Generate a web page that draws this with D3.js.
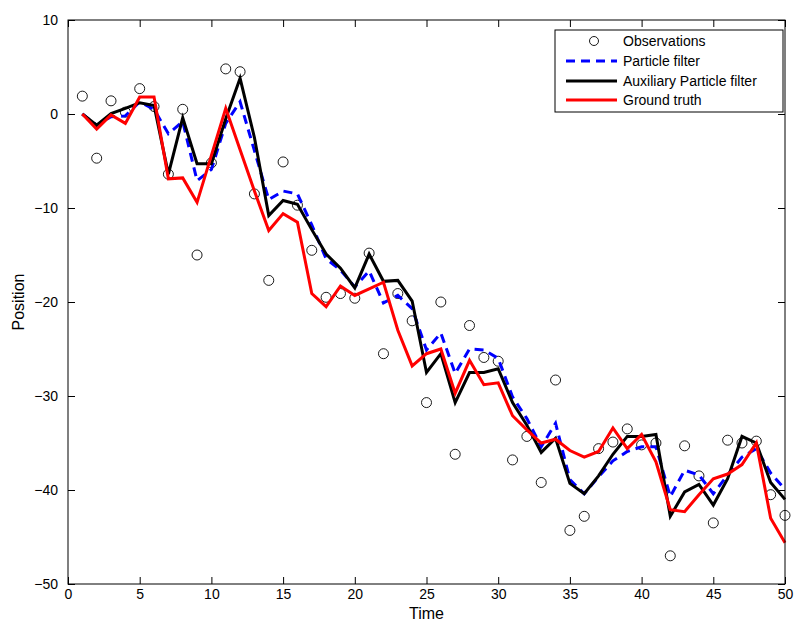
<!DOCTYPE html>
<html>
<head>
<meta charset="utf-8">
<script src="https://cdn.jsdelivr.net/npm/d3@7"></script>
<style>
  body { margin: 0; background: #fff; }
  text { font-family: "Liberation Sans", Arial, sans-serif; fill: #000; }
</style>
</head>
<body>
<script>
const width = 794;
const height = 625;
const margin = { top: 20, right: 9, bottom: 41, left: 68 };

// time steps
const timeSteps = [1, 2, 3, 4, 5, 6, 7, 8, 9, 10, 11, 12, 13, 14, 15, 16, 17, 18, 19, 20,
  21, 22, 23, 24, 25, 26, 27, 28, 29, 30, 31, 32, 33, 34, 35, 36, 37, 38, 39, 40,
  41, 42, 43, 44, 45, 46, 47, 48, 49, 50];

// observations (circles)
const observations = [1.9, -4.7, 1.4, 0.2, 2.7, 0.8, -6.4, 0.5, -15.0, -5.2,
  4.8, 4.5, -8.5, -17.7, -5.1, -9.7, -14.5, -19.5, -19.1, -19.6,
  -14.8, -25.5, -19.1, -22.0, -30.7, -20.0, -36.2, -22.5, -25.9, -26.3,
  -36.8, -34.3, -39.2, -28.3, -44.3, -42.8, -35.6, -34.9, -33.5, -35.2,
  -35.0, -47.0, -35.3, -38.5, -43.5, -34.7, -35.0, -34.8, -40.5, -42.7];

// particle filter estimate
const particleFilter = [0, -1.2, -0.3, -0.2, 1.3, 0.5, -2.1, -0.8, -7.1, -5.9,
  -1.0, 1.3, -3.9, -9.1, -8.2, -8.5, -11.8, -15.4, -16.6, -18.4,
  -16.7, -20.1, -19.3, -20.7, -25.1, -23.3, -27.6, -25.0, -25.1, -26.0,
  -30.1, -32.4, -35.4, -32.9, -38.9, -40.4, -38.6, -36.9, -35.9, -35.4,
  -35.4, -40.7, -37.9, -38.4, -40.4, -38.4, -36.5, -35.6, -38.2, -39.9];

// auxiliary particle filter estimate
const auxParticleFilter = [0, -1.2, 0.05, 0.6, 1.2, 0.9, -6.4, -0.4, -5.3, -5.3,
  -0.5, 3.8, -2.5, -10.8, -9.2, -9.6, -12.3, -14.9, -16.4, -18.5,
  -14.9, -17.8, -17.7, -19.9, -27.5, -25.5, -30.7, -27.5, -27.5, -27.1,
  -30.7, -33.1, -36.0, -34.5, -39.3, -40.4, -38.5, -36.2, -34.3, -34.3,
  -34.1, -42.8, -40.2, -39.4, -41.6, -38.8, -34.3, -35.0, -39.2, -41.0];

// ground truth
const groundTruth = [0, -1.6, -0.1, -1.0, 1.8, 1.8, -6.9, -6.8, -9.4, -4.4,
  0.6, -3.8, -8.2, -12.4, -10.6, -11.5, -19.1, -20.5, -18.3, -19.3,
  -18.6, -17.9, -23.0, -26.8, -25.5, -25.0, -29.7, -26.2, -28.8, -28.6,
  -32.1, -33.6, -35.0, -34.6, -35.8, -36.5, -35.9, -33.4, -35.6, -34.1,
  -37.0, -42.1, -42.3, -40.5, -38.8, -38.3, -37.3, -35.0, -43.0, -45.6];

const xTicks = [0, 5, 10, 15, 20, 25, 30, 35, 40, 45, 50];
const yTicks = [-50, -40, -30, -20, -10, 0, 10];
const legendLabels = ['Observations', 'Particle filter', 'Auxiliary Particle filter', 'Ground truth'];

const chartWidth = width - margin.left - margin.right;
const chartHeight = height - margin.top - margin.bottom;

const svg = d3.select('body')
  .append('svg')
  .attr('width', width)
  .attr('height', height);

const g = svg.append('g')
  .attr('transform', `translate(${margin.left},${margin.top})`);

const xScale = d3.scaleLinear().domain([0, 50]).range([0, chartWidth]);
const yScale = d3.scaleLinear().domain([-50, 10]).range([chartHeight, 0]);

// axes (matlab style: inward ticks on all four sides)
const tickLen = 7;
g.append('g')
  .attr('transform', `translate(0,${chartHeight})`)
  .call(d3.axisBottom(xScale).tickValues(xTicks).tickSize(-tickLen).tickPadding(5).tickFormat(d3.format('d')))
  .call(a => a.select('.domain').remove());
g.append('g')
  .call(d3.axisTop(xScale).tickValues(xTicks).tickSize(-tickLen).tickFormat(''))
  .call(a => a.select('.domain').remove());
g.append('g')
  .call(d3.axisLeft(yScale).tickValues(yTicks).tickSize(-tickLen).tickPadding(10)
    .tickFormat(d => d < 0 ? '\u2212' + Math.abs(d) : d))
  .call(a => a.select('.domain').remove());
g.append('g')
  .attr('transform', `translate(${chartWidth},0)`)
  .call(d3.axisRight(yScale).tickValues(yTicks).tickSize(-tickLen).tickFormat(''))
  .call(a => a.select('.domain').remove());

g.selectAll('.tick line').attr('stroke', '#000').attr('stroke-width', 1);
g.selectAll('.tick text').style('font-size', '14px');

const lineGen = (vals) => d3.line()
  .x((d, i) => xScale(timeSteps[i]))
  .y(d => yScale(d))(vals);

// observations
g.selectAll('circle.obs')
  .data(observations)
  .enter()
  .append('circle')
  .attr('class', 'obs')
  .attr('cx', (d, i) => xScale(timeSteps[i]))
  .attr('cy', d => yScale(d))
  .attr('r', 5)
  .attr('fill', 'none')
  .attr('stroke', '#000')
  .attr('stroke-width', 0.9);

g.append('path')
  .attr('d', lineGen(particleFilter))
  .attr('fill', 'none')
  .attr('stroke', '#0000ff')
  .attr('stroke-width', 3)
  .attr('stroke-dasharray', '9,6');

g.append('path')
  .attr('d', lineGen(auxParticleFilter))
  .attr('fill', 'none')
  .attr('stroke', '#000')
  .attr('stroke-width', 3);

g.append('path')
  .attr('d', lineGen(groundTruth))
  .attr('fill', 'none')
  .attr('stroke', '#ff0000')
  .attr('stroke-width', 3);

// box
g.append('rect')
  .attr('width', chartWidth)
  .attr('height', chartHeight)
  .attr('fill', 'none')
  .attr('stroke', '#000')
  .attr('stroke-width', 1);

// axis labels
svg.append('text')
  .attr('x', margin.left + chartWidth / 2)
  .attr('y', 619)
  .attr('text-anchor', 'middle')
  .style('font-size', '16px')
  .text('Time');

svg.append('text')
  .attr('transform', `translate(24,${margin.top + chartHeight / 2}) rotate(-90)`)
  .attr('text-anchor', 'middle')
  .style('font-size', '16px')
  .text('Position');

// legend
const legend = svg.append('g').attr('transform', 'translate(555,30)');
legend.append('rect')
  .attr('width', 228)
  .attr('height', 82)
  .attr('fill', '#fff')
  .attr('stroke', '#000')
  .attr('stroke-width', 1);

const rowY = [11, 31, 51, 70];
legendLabels.forEach((label, i) => {
  const y = rowY[i];
  if (i === 0) {
    legend.append('circle')
      .attr('cx', 39).attr('cy', y).attr('r', 4.5)
      .attr('fill', 'none').attr('stroke', '#000').attr('stroke-width', 0.9);
  } else {
    const styles = [null,
      { c: '#0000ff', dash: '9,6' },
      { c: '#000', dash: null },
      { c: '#ff0000', dash: null }];
    legend.append('line')
      .attr('x1', 11).attr('x2', 62).attr('y1', y).attr('y2', y)
      .attr('stroke', styles[i].c).attr('stroke-width', 3)
      .attr('stroke-dasharray', styles[i].dash);
  }
  legend.append('text')
    .attr('x', 68)
    .attr('y', y + 5)
    .style('font-size', '14px')
    .text(label);
});
</script>
</body>
</html>
